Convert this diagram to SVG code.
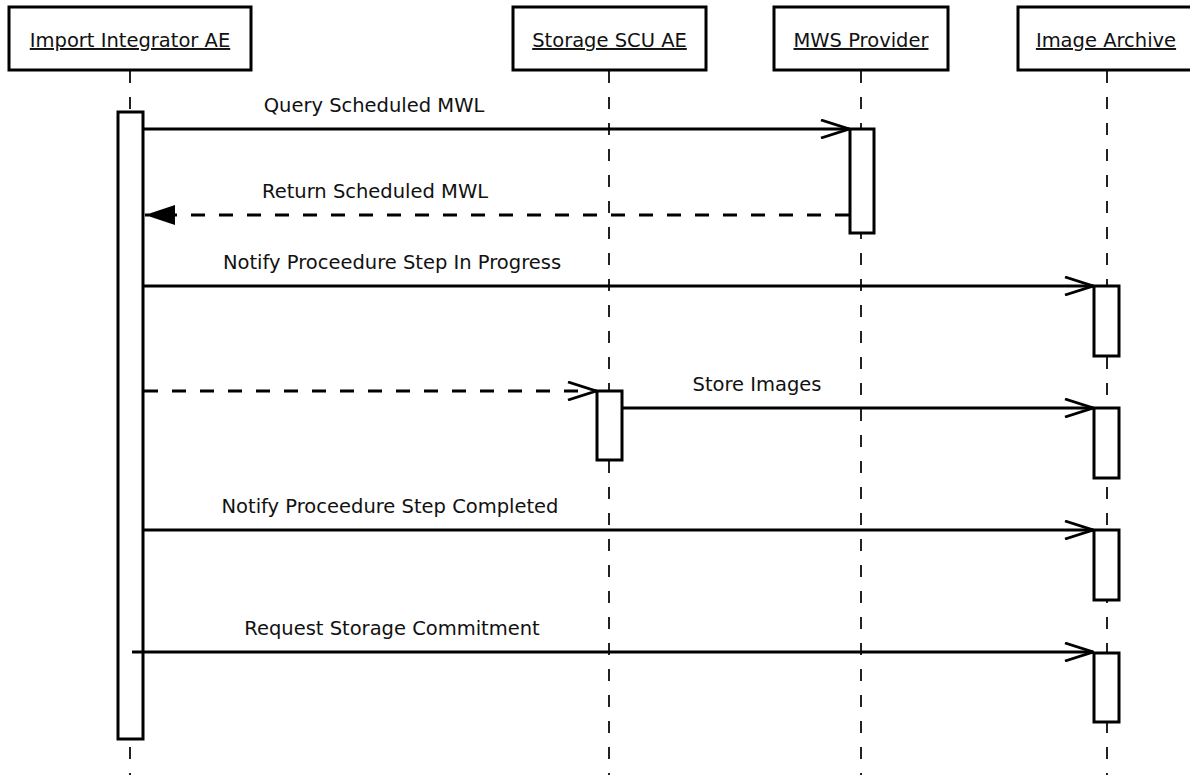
<svg xmlns="http://www.w3.org/2000/svg" width="1190" height="775" viewBox="0 0 1190 775">
<style>
.box{fill:#fff;stroke:#000;stroke-width:3}
.title{font-family:"DejaVu Sans",Verdana,sans-serif;font-size:19.5px;fill:#111;text-anchor:middle;text-decoration:underline}
.life{stroke:#222;stroke-width:2;stroke-dasharray:12 14;fill:none}
.act{fill:#fff;stroke:#000;stroke-width:3}
.msg{stroke:#000;stroke-width:2.8;fill:none}
.dash{stroke-dasharray:14 14}
.lbl{font-family:"DejaVu Sans",Verdana,sans-serif;font-size:19.5px;fill:#111;text-anchor:middle}
</style>
<defs>
<marker id="open" viewBox="0 0 30 20" refX="29" refY="10" markerWidth="30" markerHeight="20" markerUnits="userSpaceOnUse" orient="auto">
<path d="M1,1 L29,10 L1,19" fill="none" stroke="#000" stroke-width="2.8"/>
</marker>
<marker id="filled" viewBox="0 0 30 22" refX="30" refY="11" markerWidth="30" markerHeight="22" markerUnits="userSpaceOnUse" orient="auto">
<path d="M0,1 L30,11 L0,21 Z" fill="#000"/>
</marker>
</defs>
<rect width="1190" height="775" fill="#fff"/>

<g id="lifelines">
<line class="life" x1="130" y1="71" x2="130" y2="775"/>
<line class="life" x1="609" y1="71" x2="609" y2="775"/>
<line class="life" x1="861" y1="71" x2="861" y2="775"/>
<line class="life" x1="1107" y1="71" x2="1107" y2="775"/>
</g>

<g id="node-import-integrator">
<rect class="box" x="9" y="7" width="242" height="63"/>
<text class="title" x="130" y="47">Import Integrator AE</text>
<rect class="act" x="118" y="112" width="25" height="627"/>
</g>

<g id="node-storage-scu">
<rect class="box" x="513" y="7" width="193" height="63"/>
<text class="title" x="609.5" y="47">Storage SCU AE</text>
<rect class="act" x="597" y="391" width="25" height="69"/>
</g>

<g id="node-mws-provider">
<rect class="box" x="774" y="7" width="174" height="63"/>
<text class="title" x="861" y="47">MWS Provider</text>
<rect class="act" x="850" y="129" width="24" height="104"/>
</g>

<g id="node-image-archive">
<rect class="box" x="1018" y="7" width="190" height="63"/>
<text class="title" x="1106" y="47">Image Archive</text>
<rect class="act" x="1094" y="286" width="25" height="70"/>
<rect class="act" x="1094" y="408" width="25" height="70"/>
<rect class="act" x="1094" y="530" width="25" height="70"/>
<rect class="act" x="1094" y="653" width="25" height="69"/>
</g>

<g id="connectors">
<line class="msg" x1="144" y1="129" x2="849" y2="129" marker-end="url(#open)"/>
<text class="lbl" x="374" y="112">Query Scheduled MWL</text>

<line class="msg dash" x1="849" y1="215" x2="145" y2="215" marker-end="url(#filled)"/>
<text class="lbl" x="375" y="198">Return Scheduled MWL</text>

<line class="msg" x1="144" y1="286" x2="1093" y2="286" marker-end="url(#open)"/>
<text class="lbl" x="392" y="269">Notify Proceedure Step In Progress</text>

<line class="msg dash" x1="144" y1="391" x2="596" y2="391" marker-end="url(#open)"/>

<line class="msg" x1="622" y1="408" x2="1093" y2="408" marker-end="url(#open)"/>
<text class="lbl" x="757" y="391">Store Images</text>

<line class="msg" x1="144" y1="530" x2="1093" y2="530" marker-end="url(#open)"/>
<text class="lbl" x="390" y="513">Notify Proceedure Step Completed</text>

<line class="msg" x1="132" y1="652" x2="1093" y2="652" marker-end="url(#open)"/>
<text class="lbl" x="392" y="635">Request Storage Commitment</text>
</g>
</svg>
